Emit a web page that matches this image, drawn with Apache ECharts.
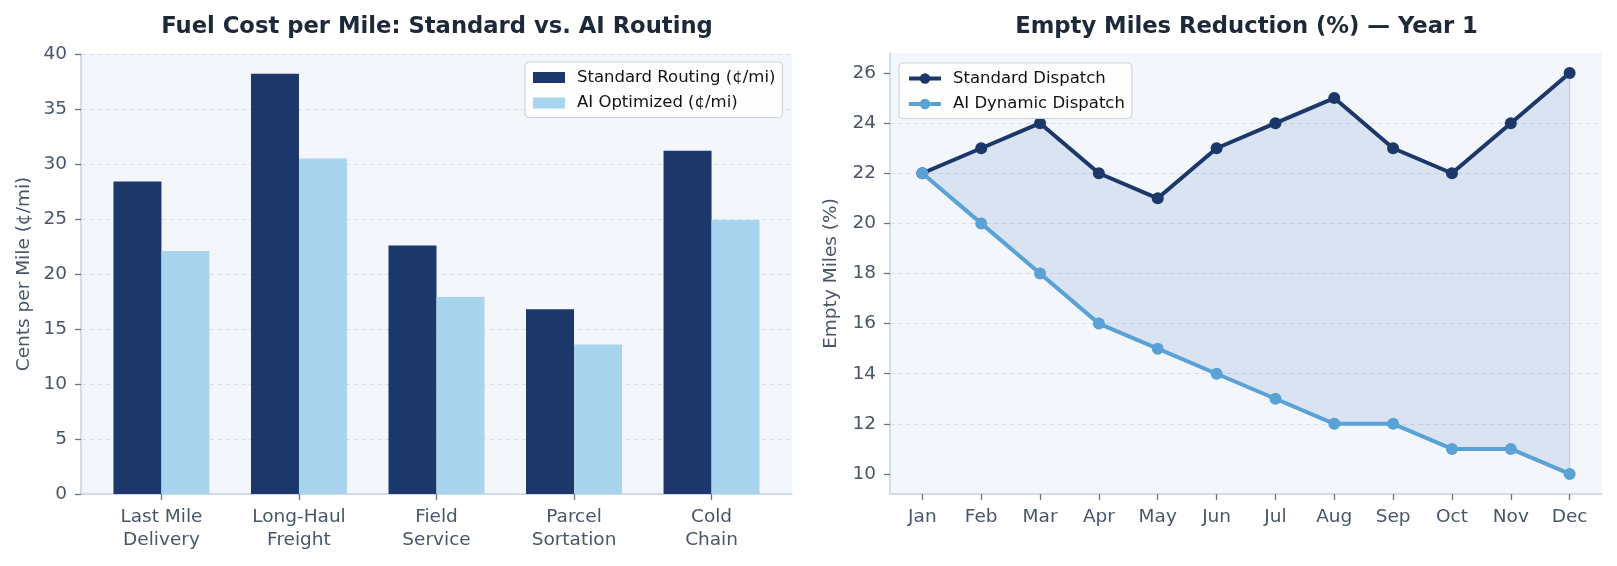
<!DOCTYPE html>
<html>
<head>
<meta charset="utf-8">
<script src="https://cdn.jsdelivr.net/npm/echarts@6/dist/echarts.min.js"></script>
<style>
html,body{margin:0;padding:0;background:#ffffff;}
#chart{width:1617px;height:566px;}
</style>
</head>
<body>
<div id="chart"></div>
<script>
// ---- Data ----
const categories = ['Last Mile\nDelivery', 'Long-Haul\nFreight', 'Field\nService', 'Parcel\nSortation', 'Cold\nChain'];
const standardCost = [28.4, 38.2, 22.6, 16.8, 31.2];
const aiCost = [22.1, 30.5, 17.9, 13.6, 24.9];
const costTicks = [0, 5, 10, 15, 20, 25, 30, 35, 40];

const months = ['Jan', 'Feb', 'Mar', 'Apr', 'May', 'Jun', 'Jul', 'Aug', 'Sep', 'Oct', 'Nov', 'Dec'];
const standardEmpty = [22, 23, 24, 22, 21, 23, 24, 25, 23, 22, 24, 26];
const aiEmpty = [22, 20, 18, 16, 15, 14, 13, 12, 12, 11, 11, 10];
const emptyTicks = [10, 12, 14, 16, 18, 20, 22, 24, 26];

const seriesNames = ['Standard Routing (¢/mi)', 'AI Optimized (¢/mi)', 'Standard Dispatch', 'AI Dynamic Dispatch'];
const titles = ['Fuel Cost per Mile: Standard vs. AI Routing', 'Empty Miles Reduction (%) — Year 1'];
const axisNames = ['Cents per Mile (¢/mi)', 'Empty Miles (%)'];

// ---- Styles ----
const FONT = 'DejaVu Sans';
const NAVY = '#1c3769';
const LIGHT = '#a9d4ee';
const AIBLUE = '#5aa2d5';
const TXT = '#4a5668';
const SPINE = '#c8d2e4';
const TICK = '#6b7482';
const GRIDC = '#d9e0ea';
const PLOTBG = '#f3f6fb';

const catIdx = categories.map((_, i) => i);
const monthIdx = months.map((_, i) => i);

function axisCommon() {
  return {
    axisLine: { show: true, onZero: false, lineStyle: { color: SPINE, width: 1.5 } },
    axisTick: { show: true, length: 6, lineStyle: { color: TICK, width: 1.3 } },
    axisLabel: { color: TXT, fontFamily: FONT, fontSize: 18.5 },
    nameTextStyle: { color: TXT, fontFamily: FONT, fontSize: 18.5 }
  };
}

const chart = echarts.init(document.getElementById('chart'), null, { renderer: 'canvas' });

const legendCommon = {
  orient: 'vertical', itemWidth: 32, itemGap: 8.5,
  padding: [7, 7, 6, 8], backgroundColor: 'rgba(255,255,255,0.85)',
  borderColor: '#cfd4db', borderWidth: 1.2, borderRadius: 4,
  textStyle: { fontFamily: FONT, fontSize: 16.5, color: '#111111', padding: [0, 0, 0, 7] }
};

const option = {
  backgroundColor: '#ffffff',
  animation: false,
  title: [
    { text: titles[0], left: 432, top: 11, textAlign: 'center',
      textStyle: { fontFamily: FONT, fontSize: 22.7, fontWeight: 'bold', color: '#1d2838' } },
    { text: titles[1], left: 1241.5, top: 11, textAlign: 'center',
      textStyle: { fontFamily: FONT, fontSize: 22.7, fontWeight: 'bold', color: '#1d2838' } }
  ],
  legend: [
    Object.assign({}, legendCommon, { data: [seriesNames[0], seriesNames[1]], left: 525, top: 62,
      icon: 'rect', itemHeight: 11 }),
    Object.assign({}, legendCommon, { data: [seriesNames[2], seriesNames[3]], left: 899, top: 63,
      itemHeight: 13, lineStyle: { width: 4 } })
  ],
  grid: [
    { left: 81, right: 825, top: 54, bottom: 72, show: true, backgroundColor: PLOTBG, borderWidth: 0 },
    { left: 890, right: 15, top: 53, bottom: 72, show: true, backgroundColor: PLOTBG, borderWidth: 0 }
  ],
  xAxis: [
    Object.assign(axisCommon(), {
      type: 'value', gridIndex: 0, min: -0.585, max: 4.585, splitNumber: 5,
      splitLine: { show: false }
    }),
    Object.assign(axisCommon(), {
      type: 'value', gridIndex: 1, min: -0.55, max: 11.55, splitNumber: 12,
      splitLine: { show: false }
    })
  ],
  yAxis: [
    Object.assign(axisCommon(), {
      type: 'value', gridIndex: 0, min: 0, max: 40, interval: 5,
      name: axisNames[0], nameLocation: 'middle', nameGap: 47,
      splitLine: { show: true, lineStyle: { color: GRIDC, type: [5, 3], width: 1 } }
    }),
    Object.assign(axisCommon(), {
      type: 'value', gridIndex: 1, min: 9.2, max: 26.8, splitNumber: 8,
      name: axisNames[1], nameLocation: 'middle', nameGap: 49,
      splitLine: { show: true, showMinLine: false, showMaxLine: false,
        lineStyle: { color: GRIDC, type: [5, 3], width: 1 } }
    })
  ],
  series: [
    { name: seriesNames[0], type: 'bar', xAxisIndex: 0, yAxisIndex: 0,
      data: catIdx.map(i => [i, standardCost[i]]), barWidth: 48, barGap: '0%',
      itemStyle: { color: NAVY } },
    { name: seriesNames[1], type: 'bar', xAxisIndex: 0, yAxisIndex: 0,
      data: catIdx.map(i => [i, aiCost[i]]), barWidth: 48, barGap: '0%',
      itemStyle: { color: LIGHT } },
    // shaded band between the two dispatch lines
    { name: '_band', type: 'custom', xAxisIndex: 1, yAxisIndex: 1, silent: true, z: 1,
      data: [[0, standardEmpty[0]]],
      renderItem: function (params, api) {
        const top = monthIdx.map(i => api.coord([i, standardEmpty[i]]));
        const bottom = monthIdx.slice().reverse().map(i => api.coord([i, aiEmpty[i]]));
        return { type: 'polygon', shape: { points: top.concat(bottom) },
          style: { fill: 'rgba(74,120,190,0.15)', stroke: 'rgba(74,120,190,0.22)', lineWidth: 1.3 } };
      } },
    { name: seriesNames[2], type: 'line', xAxisIndex: 1, yAxisIndex: 1,
      data: monthIdx.map(i => [i, standardEmpty[i]]), symbol: 'circle', symbolSize: 12,
      lineStyle: { color: NAVY, width: 4 }, itemStyle: { color: NAVY }, z: 3 },
    { name: seriesNames[3], type: 'line', xAxisIndex: 1, yAxisIndex: 1,
      data: monthIdx.map(i => [i, aiEmpty[i]]), symbol: 'circle', symbolSize: 12,
      lineStyle: { color: AIBLUE, width: 4 }, itemStyle: { color: AIBLUE }, z: 4 }
  ]
};

// custom tick positions / labels
option.xAxis[0].axisTick.customValues = catIdx;
option.xAxis[0].axisLabel.customValues = catIdx;
option.xAxis[0].axisLabel.formatter = v => categories[Math.round(v)] || '';
option.xAxis[0].axisLabel.lineHeight = 23;
option.xAxis[0].axisLabel.margin = 12;
option.xAxis[1].axisTick.customValues = monthIdx;
option.xAxis[1].axisLabel.customValues = monthIdx;
option.xAxis[1].axisLabel.formatter = v => months[Math.round(v)] || '';
option.xAxis[1].axisLabel.lineHeight = 23;
option.xAxis[1].axisLabel.margin = 12;
option.yAxis[0].axisLabel.margin = 14;
option.yAxis[0].axisTick.customValues = costTicks;
option.yAxis[0].axisLabel.customValues = costTicks;
option.yAxis[1].axisTick.customValues = emptyTicks;
option.yAxis[1].axisLabel.customValues = emptyTicks;
option.yAxis[1].axisLabel.margin = 14;

chart.setOption(option);
</script>
</body>
</html>
